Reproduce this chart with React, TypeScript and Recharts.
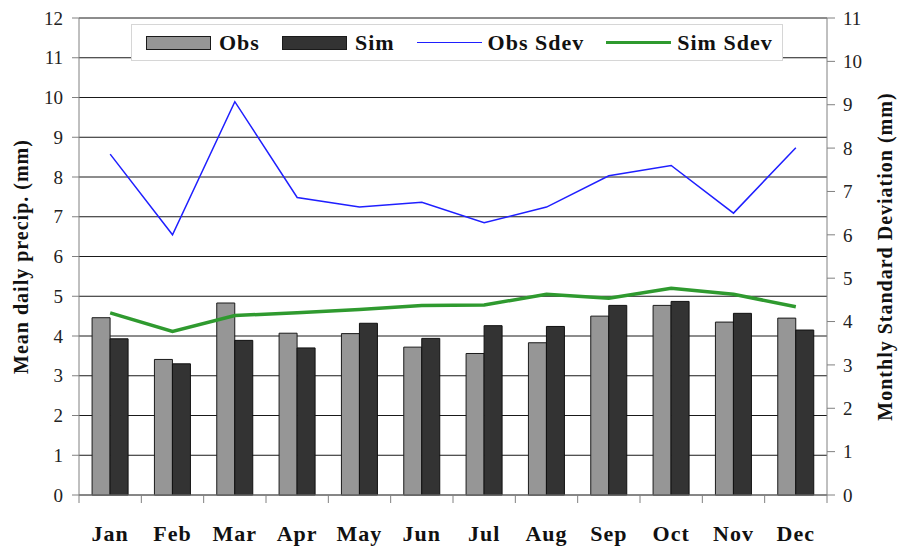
import React from 'react';
import { ComposedChart, Bar, Line, XAxis, YAxis, CartesianGrid } from 'recharts';

const months = ['Jan', 'Feb', 'Mar', 'Apr', 'May', 'Jun', 'Jul', 'Aug', 'Sep', 'Oct', 'Nov', 'Dec'];
const obs = [4.46, 3.41, 4.83, 4.07, 4.06, 3.72, 3.56, 3.83, 4.5, 4.77, 4.35, 4.45];
const sim = [3.93, 3.3, 3.89, 3.7, 4.32, 3.94, 4.26, 4.24, 4.77, 4.87, 4.57, 4.15];
const obsSdev = [7.86, 6.0, 9.07, 6.86, 6.64, 6.75, 6.28, 6.64, 7.36, 7.6, 6.5, 8.01];
const simSdev = [4.2, 3.77, 4.14, 4.2, 4.28, 4.37, 4.38, 4.63, 4.54, 4.77, 4.63, 4.34];
const leftTicks = [0, 1, 2, 3, 4, 5, 6, 7, 8, 9, 10, 11, 12];
const rightTicks = [0, 1, 2, 3, 4, 5, 6, 7, 8, 9, 10, 11];
const leftTitle = 'Mean daily precip. (mm)';
const rightTitle = 'Monthly Standard Deviation (mm)';
const legendNames = ['Obs', 'Sim', 'Obs Sdev', 'Sim Sdev'];

const data = months.map((m, i) => ({
  month: m,
  obs: obs[i],
  sim: sim[i],
  obsSdev: obsSdev[i],
  simSdev: simSdev[i],
}));

const W = 899;
const H = 554;
const LEFT_W = 79;
const RIGHT_W = 72;
const XAXIS_H = 59;
const BAND = (W - LEFT_W - RIGHT_W) / months.length;
const FONT = '"Liberation Serif", "Times New Roman", serif';
const AXIS_COLOR = '#808080';
const OBS_FILL = '#969696';
const SIM_FILL = '#333333';
const OBS_LINE = '#1f1fff';
const SIM_LINE = '#2f9a2f';

const MonthTick = (props: any) => {
  const { x, y, payload, index } = props;
  const axisY = y - 8;
  return (
    <g>
      <line x1={x - BAND / 2} x2={x - BAND / 2} y1={axisY} y2={axisY + 8} stroke={AXIS_COLOR} />
      {index === months.length - 1 && (
        <line x1={x + BAND / 2} x2={x + BAND / 2} y1={axisY} y2={axisY + 8} stroke={AXIS_COLOR} />
      )}
      <text
        x={x}
        y={axisY + 46}
        textAnchor="middle"
        fontFamily={FONT}
        fontWeight="bold"
        fontSize={22}
        letterSpacing={1}
        fill="#111"
      >
        {payload.value}
      </text>
    </g>
  );
};

const AxisTitle = (props: any) => {
  const { viewBox, value, dxFromLeft } = props;
  const cx = viewBox.x + dxFromLeft;
  const cy = viewBox.y + viewBox.height / 2;
  return (
    <text
      x={cx}
      y={cy}
      transform={`rotate(-90, ${cx}, ${cy})`}
      textAnchor="middle"
      dominantBaseline="central"
      fontFamily={FONT}
      fontWeight="bold"
      fontSize={20}
      letterSpacing={1}
      fill="#111"
    >
      {value}
    </text>
  );
};

const Swatch = ({ kind }: { kind: number }) => {
  if (kind === 0 || kind === 1) {
    return (
      <div
        style={{
          width: 63,
          height: 12,
          background: kind === 0 ? OBS_FILL : SIM_FILL,
          border: '1px solid #1a1a1a',
        }}
      />
    );
  }
  return (
    <div
      style={{
        width: 65,
        height: kind === 2 ? 1.5 : 3,
        background: kind === 2 ? OBS_LINE : SIM_LINE,
      }}
    />
  );
};

const LegendBox = () => (
  <div
    style={{
      position: 'absolute',
      left: 131,
      top: 24,
      width: 652,
      height: 37,
      boxSizing: 'border-box',
      background: '#fff',
      border: '1px solid #d6d6d6',
      display: 'flex',
      alignItems: 'center',
      paddingLeft: 14,
      fontFamily: FONT,
      fontWeight: 'bold',
      fontSize: 22,
      letterSpacing: 1,
      color: '#111',
    }}
  >
    {legendNames.map((n, i) => (
      <div key={n} style={{ display: 'flex', alignItems: 'center', marginRight: i === 3 ? 0 : 22 }}>
        <Swatch kind={i} />
        <span style={{ marginLeft: i >= 2 ? 6 : 8, lineHeight: '24px' }}>{n}</span>
      </div>
    ))}
  </div>
);

export default function App() {
  return (
    <div style={{ position: 'absolute', left: 0, top: 0, width: W, height: H, background: '#fff' }}>
      <ComposedChart
        width={W}
        height={H}
        data={data}
        margin={{ top: 18, right: 0, left: 0, bottom: 0 }}
        barCategoryGap="21%"
        barGap={0}
      >
        <CartesianGrid yAxisId="left" vertical={false} stroke="#1a1a1a" strokeWidth={1} />
        <XAxis
          dataKey="month"
          height={XAXIS_H}
          interval={0}
          tickSize={8}
          tickMargin={0}
          tickLine={{ stroke: 'none' }}
          axisLine={{ stroke: AXIS_COLOR }}
          tick={<MonthTick />}
        />
        <YAxis
          yAxisId="left"
          width={LEFT_W}
          domain={[0, 12]}
          ticks={leftTicks}
          interval={0}
          tickSize={7}
          tickMargin={9}
          axisLine={{ stroke: AXIS_COLOR }}
          tickLine={{ stroke: AXIS_COLOR }}
          tick={{ fontFamily: FONT, fontSize: 19, fill: '#222' }}
          label={<AxisTitle value={leftTitle} dxFromLeft={21} />}
        />
        <YAxis
          yAxisId="right"
          orientation="right"
          width={RIGHT_W}
          domain={[0, 11]}
          ticks={rightTicks}
          interval={0}
          tickSize={8}
          tickMargin={8}
          axisLine={{ stroke: AXIS_COLOR }}
          tickLine={{ stroke: AXIS_COLOR }}
          tick={{ fontFamily: FONT, fontSize: 19, fill: '#222', textAnchor: 'start' }}
          label={<AxisTitle value={rightTitle} dxFromLeft={58} />}
        />
        <Bar yAxisId="left" dataKey="obs" name="Obs" fill={OBS_FILL} stroke="#1a1a1a" strokeWidth={1} isAnimationActive={false} />
        <Bar yAxisId="left" dataKey="sim" name="Sim" fill={SIM_FILL} stroke="#111" strokeWidth={1} isAnimationActive={false} />
        <Line yAxisId="right" dataKey="obsSdev" name="Obs Sdev" type="linear" stroke={OBS_LINE} strokeWidth={1.5} dot={false} isAnimationActive={false} />
        <Line yAxisId="right" dataKey="simSdev" name="Sim Sdev" type="linear" stroke={SIM_LINE} strokeWidth={3.5} dot={false} isAnimationActive={false} />
      </ComposedChart>
      <LegendBox />
    </div>
  );
}
